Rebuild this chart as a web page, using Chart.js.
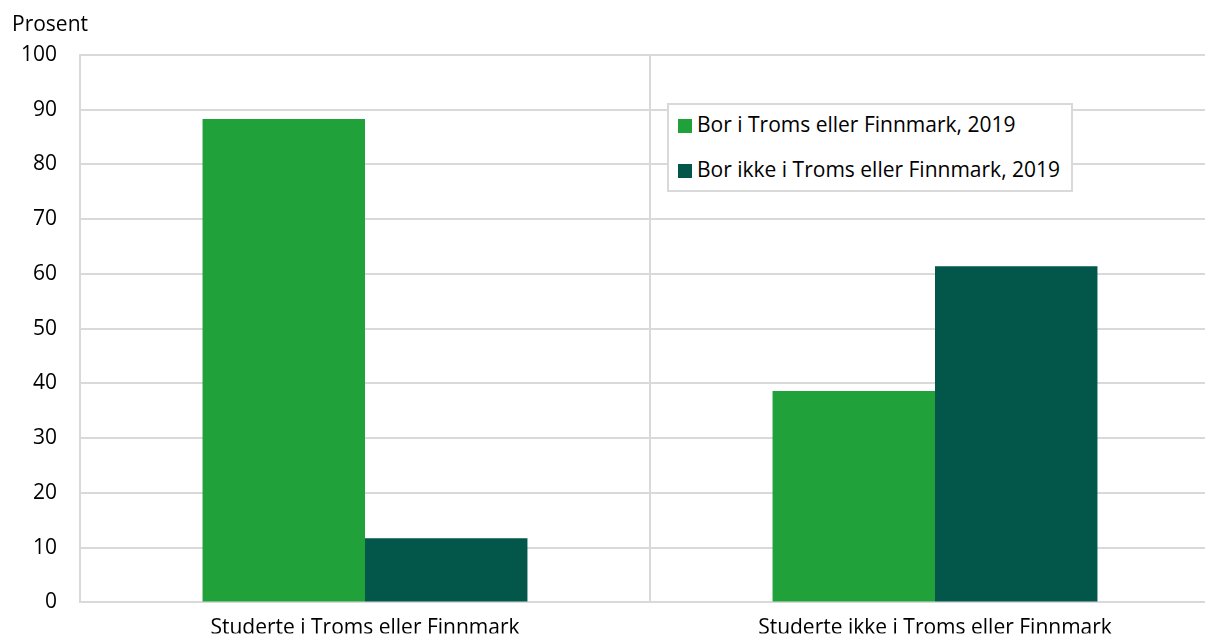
<!DOCTYPE html>
<html lang="no">
<head>
  <meta charset="UTF-8" />
  <title>Bosted 2019 etter studiested</title>
  <script src="https://cdn.jsdelivr.net/npm/chart.js"></script>
  <style>
    html, body { margin: 0; padding: 0; background: #fff; }
    #wrap { position: relative; width: 1205px; height: 634px; overflow: hidden; }
    #box { position: absolute; left: 0; top: 0; width: 1222px; height: 638px; }
    #legend {
      position: absolute; left: 667px; top: 103px; width: 402px; height: 85px;
      border: 2px solid #d9d9d9; background: #fff;
      font-family: "Open Sans", sans-serif; font-size: 21px; color: #000;
    }
    #legend div { position: absolute; left: 9px; white-space: nowrap; line-height: 26px; }
    #legend span { display: inline-block; width: 14px; height: 14px; margin-right: 5px; vertical-align: -1px; }
  </style>
</head>
<body>
<div id="wrap">
  <div id="box"><canvas id="chart" width="1222" height="638"></canvas></div>
  <div id="legend"></div>
</div>

<script>
  const categories = ["Studerte i Troms eller Finnmark", "Studerte ikke i Troms eller Finnmark"];
  const borI = [88.3, 38.6];
  const borIkkeI = [11.7, 61.4];
  const seriesNames = ["Bor i Troms eller Finnmark, 2019", "Bor ikke i Troms eller Finnmark, 2019"];
  const colors = ["#21a139", "#02574a"];
  const yTicks = [0, 10, 20, 30, 40, 50, 60, 70, 80, 90, 100];

  const font = { family: "'Open Sans', sans-serif", size: 21 };
  const gridColor = "#d9d9d9";

  const prosentLabel = {
    id: "prosentLabel",
    afterDraw(chart) {
      const ctx = chart.ctx;
      ctx.save();
      ctx.font = "21px 'Open Sans', sans-serif";
      ctx.fillStyle = "#000";
      ctx.textBaseline = "middle";
      ctx.fillText("Prosent", 12, 25);
      ctx.restore();
    }
  };

  const chart = new Chart(document.getElementById("chart"), {
    type: "bar",
    data: {
      labels: categories,
      datasets: [
        { label: seriesNames[0], data: borI, backgroundColor: colors[0] },
        { label: seriesNames[1], data: borIkkeI, backgroundColor: colors[1] }
      ]
    },
    options: {
      responsive: false,
      animation: false,
      layout: { padding: { top: 55, right: 2, left: 0, bottom: 0 } },
      datasets: { bar: { categoryPercentage: 0.57, barPercentage: 1 } },
      plugins: { legend: { display: false }, tooltip: { enabled: false } },
      scales: {
        x: {
          grid: { color: gridColor, lineWidth: 2, drawTicks: false, offset: true },
          border: { color: gridColor, width: 2 },
          ticks: { font: font, color: "#000", padding: 13 },
          afterFit(scale) { scale.height = 31; }
        },
        y: {
          min: 0, max: 100,
          afterBuildTicks(scale) { scale.ticks = yTicks.map(v => ({ value: v })); },
          grid: { color: gridColor, lineWidth: 2, drawTicks: false },
          border: { color: gridColor, width: 2 },
          ticks: { font: font, color: "#000", padding: 23 },
          afterFit(scale) { scale.width = 80; }
        }
      }
    },
    plugins: [prosentLabel]
  });

  // legend built from the chart datasets
  const legend = document.getElementById("legend");
  chart.data.datasets.forEach((ds, i) => {
    const row = document.createElement("div");
    row.style.top = (i === 0 ? 6 : 51) + "px";
    row.innerHTML = `<span style="background:${ds.backgroundColor}"></span>${ds.label}`;
    legend.appendChild(row);
  });
</script>
</body>
</html>
